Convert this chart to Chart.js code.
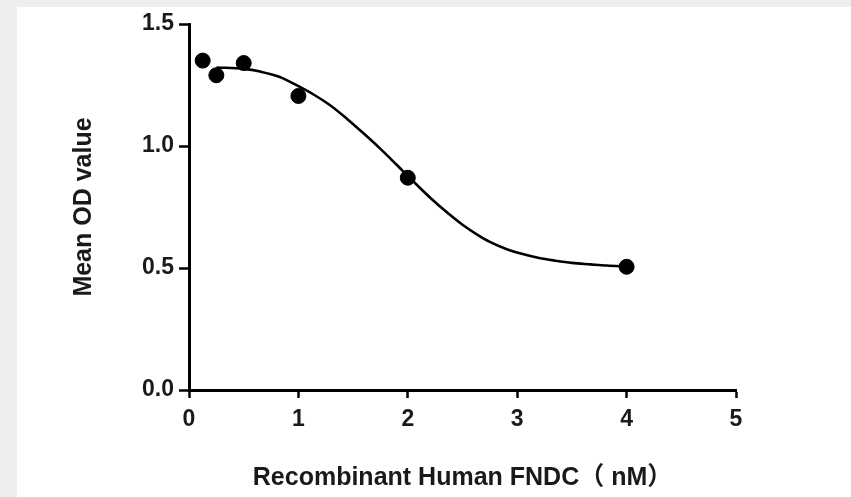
<!DOCTYPE html>
<html>
<head>
<meta charset="utf-8">
<script src="https://cdn.jsdelivr.net/npm/chart.js@4"></script>
<style>
  html, body { margin: 0; padding: 0; background: #eeeeee; }
  #wrap { position: relative; width: 851px; height: 497px; overflow: hidden; background: #eeeeee; }
  #panel { position: absolute; left: 17px; top: 7px; right: 0; bottom: 0; background: #ffffff; }
  #c { position: absolute; left: 0; top: 0; }
</style>
</head>
<body>
<div id="wrap">
  <div id="panel"></div>
  <canvas id="c" width="851" height="497" style="width:851px;height:497px"></canvas>
</div>
<script>
// Measured points
const doseX = [0.125, 0.25, 0.5, 1, 2, 4];
const meanOD = [1.35, 1.29, 1.34, 1.205, 0.87, 0.505];

// Fitted curve
const curveX = [0.25, 0.5, 0.65, 0.83, 1.0, 1.15, 1.29, 1.44, 1.59, 1.75, 1.9, 2.05, 2.2, 2.36, 2.5, 2.63, 2.75, 2.9, 3.05, 3.2, 3.35, 3.5, 3.67, 3.82, 4.0];
const curveY = [1.322, 1.316, 1.305, 1.283, 1.245, 1.208, 1.167, 1.113, 1.054, 0.988, 0.922, 0.855, 0.79, 0.727, 0.677, 0.638, 0.607, 0.578, 0.557, 0.541, 0.53, 0.521, 0.515, 0.51, 0.506];

const xTicks = [0, 1, 2, 3, 4, 5];
const yTicks = [0, 0.5, 1.0, 1.5];

const xTitle = 'Recombinant Human FNDC（ nM）';
const yTitle = 'Mean OD value';

const FONT = '"Liberation Sans", Arial, "Noto Sans CJK SC", sans-serif';
const INK = '#1a1a1a';

new Chart(document.getElementById('c'), {
  type: 'scatter',
  data: {
    datasets: [
      {
        label: 'fit',
        data: curveX.map((x, i) => ({ x, y: curveY[i] })),
        showLine: true,
        borderColor: '#000',
        borderWidth: 2.6,
        pointRadius: 0,
        cubicInterpolationMode: 'monotone',
        fill: false,
        order: 2
      },
      {
        label: 'data',
        data: doseX.map((x, i) => ({ x, y: meanOD[i] })),
        showLine: false,
        backgroundColor: '#000',
        borderColor: '#000',
        pointRadius: 7.5,
        pointHoverRadius: 7.5,
        order: 1
      }
    ]
  },
  options: {
    responsive: false,
    devicePixelRatio: 1,
    animation: false,
    layout: { padding: { left: 0, top: 24, right: 115, bottom: 0 } },
    plugins: { legend: { display: false }, tooltip: { enabled: false } },
    scales: {
      x: {
        type: 'linear',
        min: 0, max: 5,
        afterBuildTicks: s => { s.ticks = xTicks.map(v => ({ value: v })); },
        afterFit: s => { s.height = 107; },
        border: { display: true, color: '#000', width: 3 },
        grid: { drawOnChartArea: false, drawTicks: true, tickLength: 8, tickWidth: 2.5, tickColor: '#000' },
        ticks: { color: INK, font: { family: FONT, size: 23, weight: 'bold' }, padding: 8, maxRotation: 0 },
        title: { display: true, text: xTitle, color: INK, font: { family: FONT, size: 25, weight: 'bold' }, padding: { top: 0, bottom: 4 } }
      },
      y: {
        type: 'linear',
        min: 0, max: 1.5,
        afterBuildTicks: s => { s.ticks = yTicks.map(v => ({ value: v })); },
        afterFit: s => { s.width = 189; },
        border: { display: true, color: '#000', width: 3 },
        grid: { drawOnChartArea: false, drawTicks: true, tickLength: 10, tickWidth: 2.5, tickColor: '#000' },
        ticks: { color: INK, font: { family: FONT, size: 23, weight: 'bold' }, padding: 5, callback: v => v.toFixed(1) },
        title: { display: true, text: yTitle, color: INK, font: { family: FONT, size: 25, weight: 'bold' }, padding: { top: 69, bottom: 0 } }
      }
    }
  }
});
</script>
</body>
</html>
